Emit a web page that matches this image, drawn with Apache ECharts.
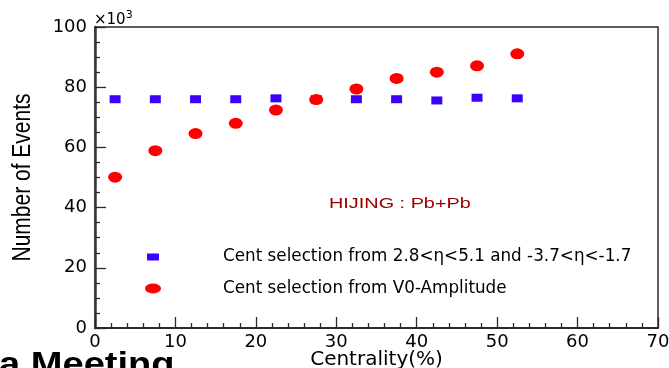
<!DOCTYPE html>
<html>
<head>
<meta charset="utf-8">
<script src="https://cdn.jsdelivr.net/npm/echarts@6/dist/echarts.min.js"></script>
<style>
  html, body { margin: 0; padding: 0; background: #fff; }
  #chart { width: 669px; height: 368px; }
</style>
</head>
<body>
<div id="chart"></div>
<script>
// Centrality bin centres (%)
const centrality = [2.5, 7.5, 12.5, 17.5, 22.5, 27.5, 32.5, 37.5, 42.5, 47.5, 52.5];
// Number of events (x10^3), centrality from forward/backward eta ranges
const etaSelection = [76.0, 76.0, 76.0, 76.0, 76.3, 76.0, 76.0, 76.0, 75.6, 76.5, 76.3];
// Number of events (x10^3), centrality from V0 amplitude
const v0Amplitude = [50.1, 58.9, 64.6, 68.0, 72.4, 75.9, 79.4, 82.9, 85.0, 87.1, 91.1];

const xTicks = [0, 10, 20, 30, 40, 50, 60, 70];
const yTicks = [0, 20, 40, 60, 80, 100];

const nameEta = 'Cent selection from 2.8<η<5.1 and -3.7<η<-1.7';
const nameV0 = 'Cent selection from V0-Amplitude';

const axisFont = 'DejaVu Sans';
const frameColor = '#2a2a2a';

// flat ellipse used as the legend marker of the V0 series
const ellipseIcon = 'path://M0,5a8,5 0 1,0 16,0a8,5 0 1,0 -16,0z';

const chart = echarts.init(document.getElementById('chart'));

chart.setOption({
  backgroundColor: '#fff',
  animation: false,
  grid: {
    left: 95, right: 11, top: 27, bottom: 40,
    containLabel: false,
    outerBoundsMode: 'none',
    show: true, borderColor: frameColor, borderWidth: 1.5, backgroundColor: 'transparent'
  },
  xAxis: {
    type: 'value',
    min: xTicks[0], max: xTicks[xTicks.length - 1], interval: 10,
    name: 'Centrality(%)',
    nameLocation: 'middle',
    nameGap: 22,
    nameMoveOverlap: false,
    nameTextStyle: { fontFamily: axisFont, fontSize: 20, color: '#000' },
    axisLine: { show: true, onZero: false, lineStyle: { color: frameColor, width: 2 } },
    axisTick: { show: true, inside: true, length: 11, lineStyle: { color: frameColor, width: 1.3 } },
    minorTick: { show: true, splitNumber: 5, length: 5, lineStyle: { color: frameColor, width: 1.3 } },
    axisLabel: { fontFamily: axisFont, fontSize: 18, color: '#000', margin: 5 },
    splitLine: { show: false }
  },
  yAxis: {
    type: 'value',
    min: yTicks[0], max: yTicks[yTicks.length - 1], interval: 20,
    axisLine: { show: true, onZero: false, lineStyle: { color: '#3a3a3a', width: 2.5 } },
    axisTick: { show: true, inside: true, length: 11, lineStyle: { color: frameColor, width: 1.3 } },
    minorTick: { show: true, splitNumber: 4, length: 5, lineStyle: { color: frameColor, width: 1.3 } },
    axisLabel: { fontFamily: axisFont, fontSize: 18, color: '#000', margin: 8 },
    splitLine: { show: false }
  },
  legend: [
    {
      data: [{ name: nameEta, icon: 'rect' }],
      orient: 'vertical', left: 147, top: 247, padding: 0,
      itemWidth: 12, itemHeight: 7, symbolKeepAspect: false,
      selectedMode: false,
      textStyle: { fontFamily: axisFont, fontSize: 16.8, color: '#000', lineHeight: 20, padding: [0, 0, 0, 59] }
    },
    {
      data: [{ name: nameV0, icon: ellipseIcon }],
      orient: 'vertical', left: 145, top: 278.5, padding: 0,
      itemWidth: 16, itemHeight: 10, symbolKeepAspect: false,
      selectedMode: false,
      itemStyle: { color: '#ff0000' },
      textStyle: { fontFamily: axisFont, fontSize: 16.8, color: '#000', lineHeight: 20, padding: [0, 0, 0, 57] }
    }
  ],
  series: [
    {
      name: nameEta,
      type: 'scatter',
      symbol: 'rect',
      symbolSize: [11, 8],
      symbolKeepAspect: false,
      itemStyle: { color: '#3d00ff', opacity: 1 },
      data: centrality.map((c, i) => [c, etaSelection[i]]),
      z: 2
    },
    {
      name: nameV0,
      type: 'scatter',
      symbol: 'circle',
      symbolSize: [14, 11],
      symbolKeepAspect: false,
      itemStyle: { color: '#ff0000', opacity: 1 },
      data: centrality.map((c, i) => [c, v0Amplitude[i]]),
      z: 3
    }
  ],
  graphic: [
    {
      // vertical axis title
      type: 'text',
      x: 23, y: 177.5,
      rotation: Math.PI / 2,
      scaleY: 1.2,
      style: {
        text: 'Number of Events',
        fontFamily: 'Liberation Sans',
        fontSize: 21,
        fill: '#000',
        align: 'center',
        verticalAlign: 'middle'
      }
    },
    {
      // exponent of the vertical axis
      type: 'text',
      x: 94, y: 20,
      style: {
        text: '×10{s|3}',
        rich: { s: { fontSize: 11, fontFamily: axisFont, padding: [0, 0, 9, 0] } },
        fontFamily: axisFont, fontSize: 15,
        fill: '#000',
        align: 'left',
        verticalAlign: 'middle'
      }
    },
    {
      type: 'text',
      x: 329, y: 203.5,
      scaleX: 1.29,
      style: {
        text: 'HIJING : Pb+Pb',
        fontFamily: 'Liberation Sans',
        fontSize: 15.4,
        fill: '#990000',
        align: 'left',
        verticalAlign: 'middle'
      }
    },
    {
      // slide heading, clipped by the lower edge
      type: 'text',
      x: -1, y: 349,
      scaleX: 1.12,
      style: {
        text: 'a Meeting',
        fontFamily: 'Liberation Sans',
        fontWeight: 'bold',
        fontSize: 34,
        fill: '#000',
        align: 'left',
        verticalAlign: 'top'
      }
    }
  ]
});
</script>
</body>
</html>
